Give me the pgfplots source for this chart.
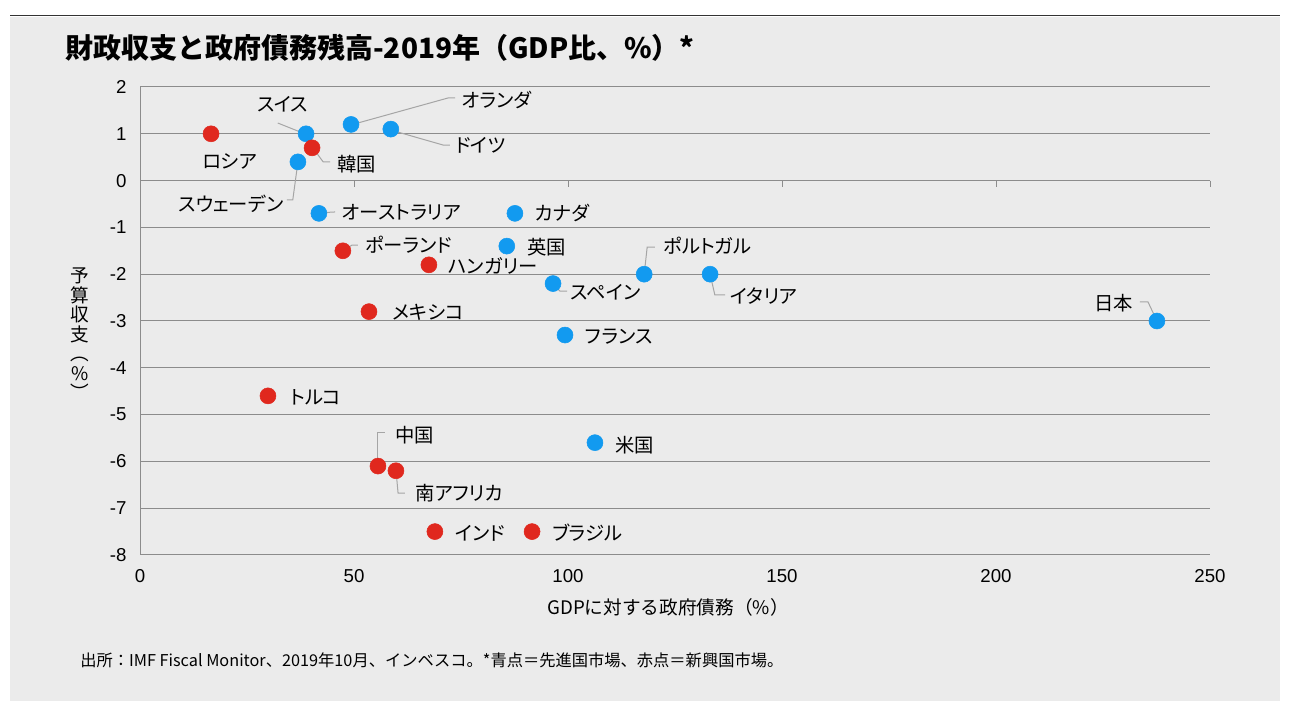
\documentclass[border=0pt]{standalone}
\usepackage{pgfplots}
\pgfplotsset{compat=1.18}
\usepackage{fontspec}
\setmainfont{Liberation Sans}
\newfontfamily\cjk[RawFeature=+palt]{Noto Sans CJK JP}
\newfontfamily\cjkfull{Noto Sans CJK JP}
\definecolor{cblue}{RGB}{18,154,240}
\definecolor{cred}{RGB}{224,40,30}
\definecolor{panel}{RGB}{235,235,235}
\definecolor{gridc}{RGB}{140,140,140}
\definecolor{leadc}{RGB}{165,165,165}
\tikzset{
  lbl/.style={anchor=west, inner sep=0pt, font=\cjk\fontsize{14.5}{16}\selectfont},
  leader/.style={leadc, line width=0.75pt},
}
\begin{document}
\begin{tikzpicture}[x=1pt,y=1pt]
\fill[white] (0,0) rectangle (971.25,540);
\useasboundingbox (0,0) rectangle (971.25,540);
\fill[panel] (7.5,14.25) rectangle (960,527.25);
\draw[black!80, line width=0.75pt] (7.5,528) -- (960,528);
\begin{axis}[
  at={(105pt,123.75pt)}, anchor=south west,
  scale only axis, width=802.5pt, height=351pt,
  xmin=0, xmax=250, ymin=-8, ymax=2,
  xtick={0,50,...,250}, ytick={-8,-7,...,2},
  axis lines*=left,
  axis line style={gridc, line width=0.75pt, -},
  ymajorgrids, grid style={gridc, line width=0.75pt},
  major tick length=0pt,
  /pgf/number format/assume math mode=true,
  tick label style={font=\fontsize{14}{16}\selectfont, inner sep=0pt},
  yticklabel style={anchor=east, xshift=-10pt},
  xticklabel style={anchor=north, yshift=-11pt},
  clip=false,
]
% tick marks on zero line
\draw[gridc, line width=0.75pt] (axis cs:0,0) -- (axis cs:250,0);
\draw[gridc, line width=0.75pt] (axis cs:50,0) -- ++(0pt,-5pt);
\draw[gridc, line width=0.75pt] (axis cs:100,0) -- ++(0pt,-5pt);
\draw[gridc, line width=0.75pt] (axis cs:150,0) -- ++(0pt,-5pt);
\draw[gridc, line width=0.75pt] (axis cs:200,0) -- ++(0pt,-5pt);
\draw[gridc, line width=0.75pt] (axis cs:250,0) -- ++(0pt,-5pt);
% leader lines
\draw[leader] (axis cs:32.2,1.23) -- (axis cs:37.4,1.04);
\draw[leader] (axis cs:49.3,1.19) -- (axis cs:71.96,1.765) -- (axis cs:73.6,1.765);
\draw[leader] (axis cs:58.6,1.08) -- (axis cs:70.8,0.76) -- (axis cs:72.4,0.76);
\draw[leader] (axis cs:40.2,0.72) -- (axis cs:42.8,0.40) -- (axis cs:44.4,0.40);
\draw[leader] (axis cs:36.9,0.40) -- (axis cs:35.7,-0.41) -- (axis cs:34.3,-0.41);
\draw[leader] (axis cs:41.8,-0.69) -- (axis cs:45.6,-0.67);
\draw[leader] (axis cs:47.4,-1.5) -- (axis cs:49.5,-1.38) -- (axis cs:50.9,-1.38);
\draw[leader] (axis cs:96.5,-2.2) -- (axis cs:98.1,-2.36) -- (axis cs:99.8,-2.36);
\draw[leader] (axis cs:117.8,-2.0) -- (axis cs:118.5,-1.42) -- (axis cs:120.3,-1.42);
\draw[leader] (axis cs:133.2,-2.0) -- (axis cs:134.3,-2.44) -- (axis cs:136.7,-2.44);
\draw[leader] (axis cs:233.6,-2.59) -- (axis cs:235.5,-2.59) -- (axis cs:237.6,-3.0);
\draw[leader] (axis cs:55.6,-6.08) -- (axis cs:55.6,-5.39) -- (axis cs:57.2,-5.39);
\draw[leader] (axis cs:59.8,-6.18) -- (axis cs:60.3,-6.68) -- (axis cs:61.9,-6.68);
% advanced (blue)
\addplot[only marks, mark=*, mark size=6pt, mark options={fill=cblue, draw=cblue}] coordinates {
 (38.8,1.0) (49.3,1.2) (58.6,1.1) (36.9,0.4) (41.8,-0.7) (87.6,-0.7)
 (85.7,-1.4) (96.5,-2.2) (117.8,-2.0) (133.2,-2.0) (99.3,-3.3)
 (237.6,-3.0) (106.3,-5.6)
};
% emerging (red)
\addplot[only marks, mark=*, mark size=6pt, mark options={fill=cred, draw=cred}] coordinates {
 (16.6,1.0) (40.2,0.7) (47.4,-1.5) (67.5,-1.8) (53.5,-2.8) (29.9,-4.6)
 (55.6,-6.1) (59.8,-6.2) (68.9,-7.5) (91.6,-7.5)
};
% labels
\node[lbl] at (axis cs:27.3,1.64) {スイス};
\node[lbl] at (axis cs:75.2,1.72) {オランダ};
\node[lbl] at (axis cs:73.6,0.76) {ドイツ};
\node[lbl] at (axis cs:14.5,0.40) {ロシア};
\node[lbl] at (axis cs:46.0,0.35) {韓国};
\node[lbl] at (axis cs:8.9,-0.50) {スウェーデン};
\node[lbl] at (axis cs:47.2,-0.67) {オーストラリア};
\node[lbl] at (axis cs:92.3,-0.69) {カナダ};
\node[lbl] at (axis cs:52.6,-1.38) {ポーランド};
\node[lbl] at (axis cs:72.0,-1.82) {ハンガリー};
\node[lbl] at (axis cs:90.4,-1.42) {英国};
\node[lbl] at (axis cs:58.9,-2.81) {メキシコ};
\node[lbl] at (axis cs:100.5,-2.38) {スペイン};
\node[lbl] at (axis cs:104.0,-3.34) {フランス};
\node[lbl] at (axis cs:122.2,-1.40) {ポルトガル};
\node[lbl] at (axis cs:137.9,-2.47) {イタリア};
\node[lbl, anchor=east] at (axis cs:232.0,-2.62) {日本};
\node[lbl] at (axis cs:35.0,-4.62) {トルコ};
\node[lbl] at (axis cs:59.6,-5.44) {中国};
\node[lbl] at (axis cs:111.0,-5.65) {米国};
\node[lbl] at (axis cs:64.3,-6.68) {南アフリカ};
\node[lbl] at (axis cs:73.6,-7.53) {インド};
\node[lbl] at (axis cs:96.3,-7.53) {ブラジル};
\end{axis}
% title
\node[anchor=west, inner sep=0pt, font=\cjkfull\bfseries\fontsize{21}{24}\selectfont] at (48.75,504) {財政収支と政府債務残高-2019年（GDP比、\%）*};
% x label
\node[inner sep=0pt, font=\cjkfull\fontsize{14}{16}\selectfont] at (501,84.75) {GDPに対する政府債務（\%）};
% y label
\node[inner sep=0pt, align=center, font=\cjkfull\fontsize{14}{14.6}\selectfont] at (60,289.5) {予\\算\\収\\支\\︵\\\%\\︶};
% footnote
\node[anchor=west, inner sep=0pt, font=\cjkfull\fontsize{12.2}{14}\selectfont] at (60,45) {出所：IMF Fiscal Monitor、2019年10月、インベスコ。*青点＝先進国市場、赤点＝新興国市場。};
\end{tikzpicture}
\end{document}
